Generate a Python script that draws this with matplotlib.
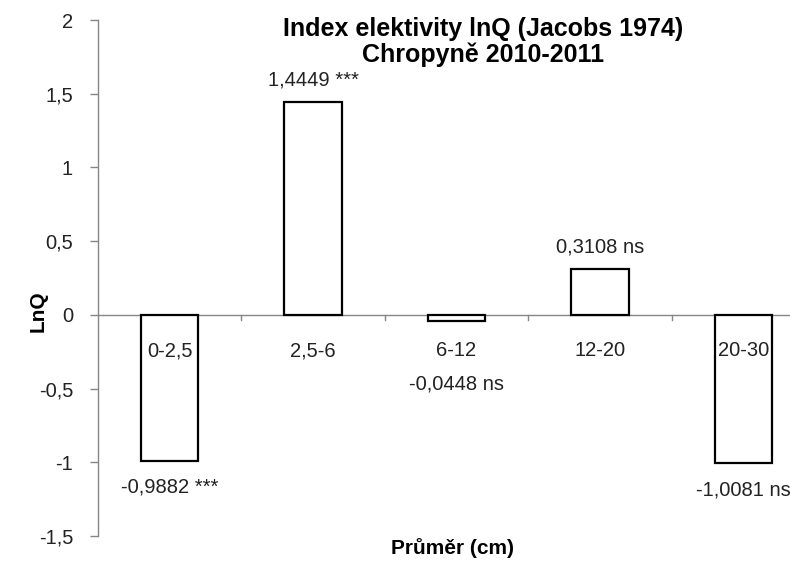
import matplotlib.pyplot as plt

plt.rcParams['font.family'] = ['Liberation Sans', 'DejaVu Sans']

# Dados
kategorie = ['0-2,5', '2,5-6', '6-12', '12-20', '20-30']
hodnoty = [-0.9882, 1.4449, -0.0448, 0.3108, -1.0081]
vyznamnost = ['***', '***', 'ns', 'ns', 'ns']
y_ticks = [-1.5, -1, -0.5, 0, 0.5, 1, 1.5, 2]

fig = plt.figure(figsize=(7.9, 5.64), dpi=100)
# osa presahuje pravy okraj obrazku (jako v originale)
ax = fig.add_axes([98 / 790, 1 - 536 / 564, 717 / 790, 516 / 564])

x = list(range(len(kategorie)))
ax.bar(x, hodnoty, width=0.4, color='white', edgecolor='black', linewidth=1.6, zorder=3)

ax.set_xlim(-0.5, len(kategorie) - 0.5)
ax.set_ylim(-1.5, 2)
ax.set_yticks(y_ticks)
ax.set_yticklabels([f'{t:g}'.replace('.', ',') for t in y_ticks], fontsize=14.5, color='#222222')
ax.tick_params(axis='y', direction='out', length=6, color='#868686', width=1, pad=12)

for s in ['top', 'right', 'bottom']:
    ax.spines[s].set_visible(False)
ax.spines['left'].set_color('#868686')
ax.spines['left'].set_linewidth(1)

# nulova osa a znacky kategorii
ax.axhline(0, color='#868686', linewidth=1, zorder=2)
ax.set_xticks([])
for i in range(1, len(kategorie)):
    ax.plot([i - 0.5, i - 0.5], [0, -0.035], color='#868686', linewidth=1, zorder=2)

for i, k in enumerate(kategorie):
    ax.text(i, -0.245, k, ha='center', va='center', fontsize=14.5, color='#222222', zorder=4)

# popisky hodnot
for i, (v, s) in enumerate(zip(hodnoty, vyznamnost)):
    txt = f'{v:.4f}'.replace('.', ',') + ' ' + s
    if v >= 0:
        ax.text(i, v + 0.15, txt, ha='center', va='center', fontsize=14.5, color='#222222')
    elif v > -0.2:
        # popisek 6-12 je pod popiskem kategorie
        ax.text(i, -0.47, txt, ha='center', va='center', fontsize=14.5, color='#222222')
    else:
        ax.text(i, v - 0.18, txt, ha='center', va='center', fontsize=14.5, color='#222222')

fig.text(483 / 790, 1 - 42 / 564, 'Index elektivity lnQ (Jacobs 1974)\nChropyně 2010-2011',
         ha='center', va='center', fontsize=18, fontweight='bold', linespacing=1.1)
fig.text(38 / 790, 1 - 311 / 564, 'LnQ', rotation=90, ha='center', va='center',
         fontsize=15, fontweight='bold')
fig.text(453 / 790, 1 - 548 / 564, 'Průměr (cm)', ha='center', va='center',
         fontsize=15, fontweight='bold')

fig.savefig('out.png', dpi=100)
